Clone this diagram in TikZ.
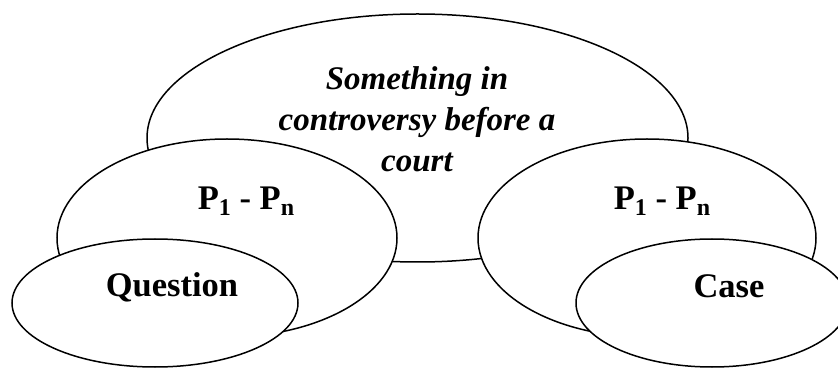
\documentclass[tikz,border=0pt]{standalone}
\usepackage{fontspec}
\setmainfont{Liberation Serif}
\usepackage{tikz}
\usetikzlibrary{shapes.geometric}

\newcommand{\psub}[1]{\raisebox{-6pt}{\fontsize{24}{24}\selectfont #1}}

\tikzset{
  blob/.style={ellipse, draw, line width=1.5pt, fill=white, inner sep=0pt},
  label/.style={inner sep=0.75pt, font=\fontsize{34.5}{34.5}\selectfont\bfseries}
}

\begin{document}
\begin{tikzpicture}[x=1pt,y=1pt,yscale=-1,xscale=1]
\useasboundingbox (0,0) rectangle (838,371);

%Shape: Ellipse [big]
\node [blob, minimum width=541, minimum height=248] (court) at (417.5,138) {};
%Shape: Ellipse [left]
\node [blob, minimum width=340, minimum height=198] (leftp) at (227,238) {};
%Shape: Ellipse [question]
\node [blob, minimum width=286, minimum height=128] (quest) at (155,303) {};
%Shape: Ellipse [right]
\node [blob, minimum width=338, minimum height=198] (rightp) at (647,238) {};
%Shape: Ellipse [case]
\node [blob, minimum width=272, minimum height=128] (case) at (712,303) {};

% Text Node
\node [label, anchor=base, align=center, font=\fontsize{33}{41}\selectfont\bfseries\itshape] (courttxt) at (417,172) {Something in\\controversy before a\\court};
% Text Node
\node [label, anchor=base] (lefttxt) at (246,210) {P\psub{1} - P\psub{n}};
% Text Node
\node [label, anchor=base] (questtxt) at (172,297) {Question};
% Text Node
\node [label, anchor=base] (righttxt) at (662,210) {P\psub{1} - P\psub{n}};
% Text Node
\node [label, anchor=base] (casetxt) at (729,298) {Case};

\end{tikzpicture}
\end{document}
